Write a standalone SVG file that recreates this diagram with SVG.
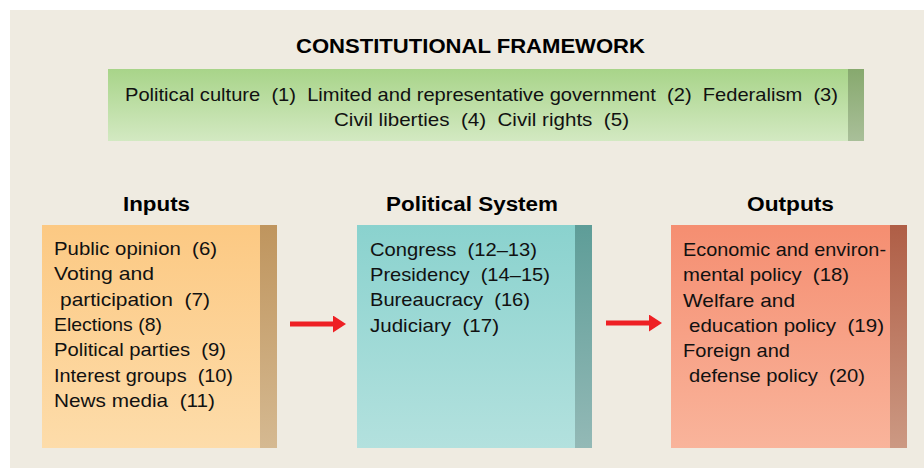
<svg xmlns="http://www.w3.org/2000/svg" width="924" height="468" viewBox="0 0 924 468">
<style>
.t{font-family:"Liberation Sans",Arial,sans-serif;font-size:19px;fill:#111;white-space:pre}
.h{font-family:"Liberation Sans",Arial,sans-serif;font-size:20px;font-weight:bold;fill:#000}
.con{stroke:#EE2024;stroke-width:5;fill:none}
</style>
<defs>
<linearGradient id="gIn" x1="0" y1="0" x2="0" y2="1"><stop offset="0" stop-color="#FCC983"/><stop offset="1" stop-color="#FDDCAA"/></linearGradient>
<linearGradient id="gInS" x1="0" y1="0" x2="0" y2="1"><stop offset="0" stop-color="#BF955E"/><stop offset="1" stop-color="#D5B991"/></linearGradient>
<linearGradient id="gPs" x1="0" y1="0" x2="0" y2="1"><stop offset="0" stop-color="#8AD2CE"/><stop offset="1" stop-color="#B3E1DE"/></linearGradient>
<linearGradient id="gPsS" x1="0" y1="0" x2="0" y2="1"><stop offset="0" stop-color="#5E9D98"/><stop offset="1" stop-color="#93B9B6"/></linearGradient>
<linearGradient id="gOut" x1="0" y1="0" x2="0" y2="1"><stop offset="0" stop-color="#F58E71"/><stop offset="1" stop-color="#F9B49B"/></linearGradient>
<linearGradient id="gOutS" x1="0" y1="0" x2="0" y2="1"><stop offset="0" stop-color="#AF5E46"/><stop offset="1" stop-color="#CC9983"/></linearGradient>
<linearGradient id="gCf" x1="0" y1="0" x2="0" y2="1"><stop offset="0" stop-color="#A8D489"/><stop offset="1" stop-color="#D3E9C2"/></linearGradient>
<linearGradient id="gCfS" x1="0" y1="0" x2="0" y2="1"><stop offset="0" stop-color="#87A96E"/><stop offset="1" stop-color="#A9BF99"/></linearGradient>
<marker id="ah" markerUnits="userSpaceOnUse" markerWidth="13" markerHeight="17" refX="1" refY="8.5" orient="auto" viewBox="0 0 13 17">
<path d="M0,0 L13,8.5 L0,17 Z" fill="#EE2024"/>
</marker>
</defs>
<rect x="0" y="0" width="924" height="468" fill="#FFFFFF"/>
<rect x="10" y="10" width="914" height="458" fill="#EFEBE1"/>

<g id="constitutional-framework">
<text class="h" x="296" y="53" textLength="349" lengthAdjust="spacingAndGlyphs">CONSTITUTIONAL FRAMEWORK</text>
<rect x="108" y="69" width="740" height="72" fill="url(#gCf)"/>
<rect x="848" y="69" width="16" height="72" fill="url(#gCfS)"/>
<text class="t" x="125" y="101" textLength="713" lengthAdjust="spacingAndGlyphs">Political culture  (1)  Limited and representative government  (2)  Federalism  (3)</text>
<text class="t" x="334" y="126" textLength="295" lengthAdjust="spacingAndGlyphs">Civil liberties  (4)  Civil rights  (5)</text>
</g>

<g id="inputs">
<text class="h" x="123" y="211" textLength="67" lengthAdjust="spacingAndGlyphs">Inputs</text>
<rect x="42" y="225" width="218" height="223" fill="url(#gIn)"/>
<rect x="260" y="225" width="17" height="223" fill="url(#gInS)"/>
<text class="t" x="54" y="255" textLength="163" lengthAdjust="spacingAndGlyphs">Public opinion  (6)</text>
<text class="t" x="54" y="280" textLength="100" lengthAdjust="spacingAndGlyphs">Voting and</text>
<text class="t" x="60" y="306" textLength="150" lengthAdjust="spacingAndGlyphs">participation  (7)</text>
<text class="t" x="54" y="331" textLength="108" lengthAdjust="spacingAndGlyphs">Elections (8)</text>
<text class="t" x="54" y="356" textLength="172" lengthAdjust="spacingAndGlyphs">Political parties  (9)</text>
<text class="t" x="54" y="382" textLength="179" lengthAdjust="spacingAndGlyphs">Interest groups  (10)</text>
<text class="t" x="54" y="407" textLength="161" lengthAdjust="spacingAndGlyphs">News media  (11)</text>
</g>

<g id="political-system">
<text class="h" x="386" y="211" textLength="172" lengthAdjust="spacingAndGlyphs">Political System</text>
<rect x="357" y="225" width="218" height="223" fill="url(#gPs)"/>
<rect x="575" y="225" width="17" height="223" fill="url(#gPsS)"/>
<text class="t" x="370" y="256" textLength="167" lengthAdjust="spacingAndGlyphs">Congress  (12–13)</text>
<text class="t" x="370" y="281" textLength="180" lengthAdjust="spacingAndGlyphs">Presidency  (14–15)</text>
<text class="t" x="370" y="306" textLength="160" lengthAdjust="spacingAndGlyphs">Bureaucracy  (16)</text>
<text class="t" x="370" y="332" textLength="129" lengthAdjust="spacingAndGlyphs">Judiciary  (17)</text>
</g>

<g id="outputs">
<text class="h" x="747" y="211" textLength="87" lengthAdjust="spacingAndGlyphs">Outputs</text>
<rect x="671" y="225" width="219" height="223" fill="url(#gOut)"/>
<rect x="890" y="225" width="17" height="223" fill="url(#gOutS)"/>
<text class="t" x="683" y="256" textLength="203" lengthAdjust="spacingAndGlyphs">Economic and environ-</text>
<text class="t" x="683" y="281" textLength="166" lengthAdjust="spacingAndGlyphs">mental policy  (18)</text>
<text class="t" x="683" y="307" textLength="112" lengthAdjust="spacingAndGlyphs">Welfare and</text>
<text class="t" x="689" y="332" textLength="195" lengthAdjust="spacingAndGlyphs">education policy  (19)</text>
<text class="t" x="683" y="357" textLength="107" lengthAdjust="spacingAndGlyphs">Foreign and</text>
<text class="t" x="689" y="382" textLength="176" lengthAdjust="spacingAndGlyphs">defense policy  (20)</text>
</g>

<g id="connectors">
<path class="con" d="M290,324 L334,324" marker-end="url(#ah)"/>
<path class="con" d="M606,323 L650,323" marker-end="url(#ah)"/>
</g>
</svg>
